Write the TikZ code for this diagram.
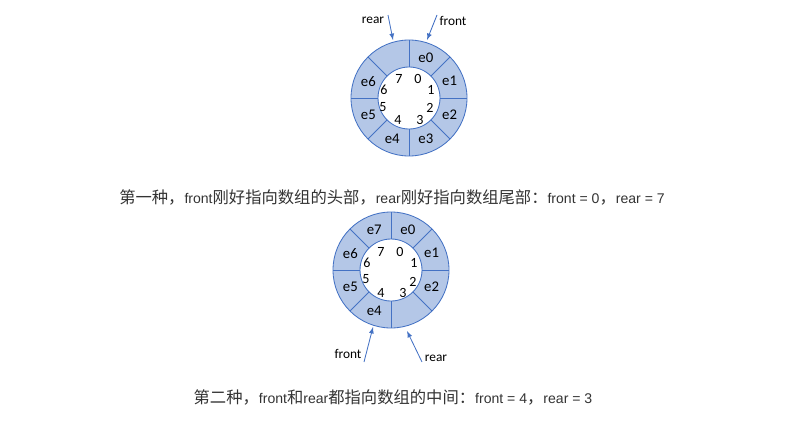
\documentclass[tikz,border=0pt]{standalone}
\usepackage{fontspec}
\setmainfont{Carlito}
\newfontfamily\cjk{Noto Sans CJK SC}
\newfontfamily\capfont{Liberation Sans}
\usetikzlibrary{arrows}
\tikzset{>=latex}
\definecolor{ringblue}{HTML}{4472C4}
\definecolor{ringfill}{HTML}{B4C7E7}
\definecolor{captext}{HTML}{333333}
\newcommand{\zh}[1]{{\cjk\fontsize{11.6pt}{14}\selectfont #1}}
\tikzset{
  ring/.style = {draw = ringblue, line width = 0.6pt},
  slot/.style = {font = {\fontsize{10.5pt}{12}\selectfont}, inner sep = 0pt},
  idx/.style = {font = {\fontsize{10pt}{12}\selectfont}, inner sep = 0pt},
  ptr/.style = {->, ringblue, line width = 0.6pt},
  ptrtext/.style = {font = {\fontsize{9.5pt}{12}\selectfont}, inner sep = 0pt},
  caption/.style = {font = {\capfont\fontsize{10pt}{14}\selectfont}, text = captext, inner sep = 0pt}
}

\begin{document}
\begin{tikzpicture}[x = 0.025cm, y = 0.025cm]
\useasboundingbox (0,0) rectangle (797,-421);

% first queue: front = 0, rear = 7
\begin{scope}[shift = {(409,-98)}]
\fill[ringfill, even odd rule] (0,0) circle [radius = 58] (0,0) circle [radius = 31];
\foreach \a in {0, 45, ..., 315}
	\draw[ring] (\a:31) -- (\a:58);
\draw[ring] (0,0) circle [radius = 58];
\draw[ring] (0,0) circle [radius = 31];
\foreach \i/\a in {0/67.5, 1/22.5, 2/-22.5, 3/-67.5, 4/-112.5, 5/-157.5, 6/157.5}
	\node[slot] (A-e\i) at (\a:44) {e\i};
\foreach \i/\p in {0/{(9,19)}, 1/{(22,8)}, 2/{(21,-10)}, 3/{(11,-22)}, 4/{(-11,-22)}, 5/{(-26,-9)}, 6/{(-25,8)}, 7/{(-10,19)}}
	\node[idx] (A-\i) at \p {\i};
\coordinate (A-rear-tip) at (-16,58);
\coordinate (A-rear-tail) at (-21,83);
\coordinate (A-front-tip) at (18,58);
\coordinate (A-front-tail) at (28,83);
\end{scope}

\node[ptrtext] (A-rear) at (373,-20) {rear};
\node[ptrtext] (A-front) at (453,-21) {front};
\draw[ptr] (A-rear-tail) -- (A-rear-tip);
\draw[ptr] (A-front-tail) -- (A-front-tip);

\node[caption] (cap1) at (392,-197) {\zh{第一种，}front\zh{刚好指向数组的头部，}rear\zh{刚好指向数组尾部：}front = 0\zh{，}rear = 7};

% second queue: front = 4, rear = 3
\begin{scope}[shift = {(391,-270)}]
\fill[ringfill, even odd rule] (0,0) circle [radius = 58] (0,0) circle [radius = 31];
\foreach \a in {0, 45, ..., 315}
	\draw[ring] (\a:31) -- (\a:58);
\draw[ring] (0,0) circle [radius = 58];
\draw[ring] (0,0) circle [radius = 31];
\foreach \i/\a in {0/67.5, 1/22.5, 2/-22.5, 4/-112.5, 5/-157.5, 6/157.5, 7/112.5}
	\node[slot] (B-e\i) at (\a:44) {e\i};
\foreach \i/\p in {0/{(9,18)}, 1/{(23,7)}, 2/{(22,-12)}, 3/{(12,-23)}, 4/{(-10,-23)}, 5/{(-25,-9)}, 6/{(-24,7)}, 7/{(-10,18)}}
	\node[idx] (B-\i) at \p {\i};
\coordinate (B-front-tip) at (-18,-57);
\coordinate (B-front-tail) at (-27,-92);
\coordinate (B-rear-tip) at (16,-61);
\coordinate (B-rear-tail) at (31,-92);
\end{scope}

\node[ptrtext] (B-front) at (348,-354) {front};
\node[ptrtext] (B-rear) at (436,-358) {rear};
\draw[ptr] (B-front-tail) -- (B-front-tip);
\draw[ptr] (B-rear-tail) -- (B-rear-tip);

\node[caption] (cap2) at (393,-397) {\zh{第二种，}front\zh{和}rear\zh{都指向数组的中间：}front = 4\zh{，}rear = 3};
\end{tikzpicture}
\end{document}
